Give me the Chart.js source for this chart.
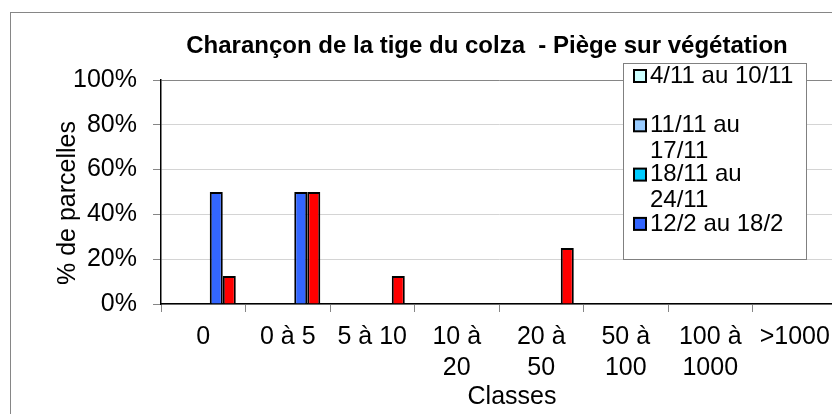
<!DOCTYPE html>
<html>
<head>
<meta charset="utf-8">
<script src="https://cdn.jsdelivr.net/npm/chart.js@4.4.1/dist/chart.umd.min.js"></script>
<style>
html, body { margin: 0; padding: 0; overflow: hidden; background: #fff; }
#wrap { position: relative; width: 900px; height: 414px; }
</style>
</head>
<body>
<div id="wrap"><canvas id="chart"></canvas></div>
<script>
const chartTitle = "Charançon de la tige du colza  - Piège sur végétation";
const xTitle = "Classes";
const yTitle = "% de parcelles";
const categories = ["0", "0 à 5", "5 à 10", ["10 à", "20"], ["20 à", "50"], ["50 à", "100"], ["100 à", "1000"], ">1000"];
const seriesLabels = ["4/11 au 10/11", "11/11 au 17/11", "18/11 au 24/11", "12/2 au 18/2", "Série 5"];
const week1 = [0, 0, 0, 0, 0, 0, 0, 0];
const week2 = [0, 0, 0, 0, 0, 0, 0, 0];
const week3 = [0, 0, 0, 0, 0, 0, 0, 0];
const february = [50, 50, 0, 0, 0, 0, 0, 0];
const series5 = [12.5, 50, 12.5, 0, 25, 0, 0, 0];
const seriesColors = ["#CCFFFF", "#99CCFF", "#00CCFF", "#3366FF", "#FF0000"];
const yMax = 100;
const yStep = 20;

const FONT = "'Liberation Sans', Arial, sans-serif";
Chart.defaults.font.family = FONT;
Chart.defaults.color = "#000";

function wrapText(ctx, text, maxWidth) {
  const words = text.split(" ");
  const lines = [];
  let line = "";
  words.forEach(w => {
    const test = line ? line + " " + w : w;
    if (ctx.measureText(test).width > maxWidth && line) {
      lines.push(line);
      line = w;
    } else {
      line = test;
    }
  });
  if (line) lines.push(line);
  return lines;
}

// outer frame, titles and the Excel-like legend box (clipped)
const excelDecor = {
  id: "excelDecor",
  beforeDraw(chart) {
    const ctx = chart.ctx;
    ctx.save();
    ctx.strokeStyle = "#868686";
    ctx.lineWidth = 1;
    ctx.strokeRect(10.5, 12.5, 2000, 2000);
    ctx.restore();
  },
  afterDraw(chart) {
    const ctx = chart.ctx;
    ctx.save();
    ctx.fillStyle = "#000";
    ctx.textAlign = "center";
    ctx.textBaseline = "middle";
    ctx.font = "bold 24px " + FONT;
    ctx.fillText(chartTitle, 487, 46);
    ctx.font = "25px " + FONT;
    ctx.fillText(xTitle, 512, 397);
    ctx.translate(68, 203);
    ctx.rotate(-Math.PI / 2);
    ctx.fillText(yTitle, 0, 0);
    ctx.restore();

    const bx = 623.5, by = 63.5, bw = 183, bh = 196;
    ctx.save();
    ctx.fillStyle = "#fff";
    ctx.fillRect(bx, by, bw, bh);
    ctx.strokeStyle = "#808080";
    ctx.lineWidth = 1;
    ctx.strokeRect(bx, by, bw, bh);
    ctx.beginPath();
    ctx.rect(bx, by, bw, bh);
    ctx.clip();
    ctx.font = "24px " + FONT;
    ctx.textBaseline = "middle";
    chart.data.datasets.forEach((ds, i) => {
      const y = 76 + i * 49.3;
      ctx.fillStyle = ds.backgroundColor;
      ctx.fillRect(634, y - 6, 12, 12);
      ctx.strokeStyle = "#000";
      ctx.lineWidth = 2;
      ctx.strokeRect(634, y - 6, 12, 12);
      ctx.fillStyle = "#000";
      wrapText(ctx, ds.label, 148).forEach((l, j) => {
        ctx.fillText(l, 650, y + j * 26);
      });
    });
    ctx.restore();
  }
};

const allSeries = [week1, week2, week3, february, series5];

new Chart(document.getElementById("chart"), {
  type: "bar",
  data: {
    labels: categories,
    datasets: allSeries.map((values, i) => ({
      label: seriesLabels[i],
      data: values,
      backgroundColor: seriesColors[i],
      borderColor: "#000",
      borderWidth: 2,
      categoryPercentage: 0.77,
      barPercentage: 1.0
    }))
  },
  options: {
    responsive: true,
    maintainAspectRatio: false,
    animation: false,
    layout: { padding: { left: 0, right: 63, top: 80, bottom: 0 } },
    plugins: {
      legend: { display: false },
      tooltip: { enabled: false },
      title: { display: false }
    },
    scales: {
      x: {
        afterFit(scale) { scale.height = 110; },
        grid: {
          display: true,
          drawOnChartArea: false,
          offset: true,
          tickLength: 8,
          tickColor: "#868686"
        },
        border: { color: "#000", width: 1.5 },
        ticks: {
          font: { size: 25, lineHeight: 1.24 },
          padding: 10,
          maxRotation: 0,
          autoSkip: false
        }
      },
      y: {
        min: 0,
        max: yMax,
        afterFit(scale) { scale.width = 161; },
        grid: {
          color: ctx => ctx.tick && ctx.tick.value === yMax ? "#868686" : "#d4d4d4",
          tickLength: 8,
          tickColor: "#868686"
        },
        border: { color: "#000", width: 1.5 },
        ticks: {
          stepSize: yStep,
          font: { size: 25 },
          padding: 16,
          callback: v => v + "%"
        }
      }
    }
  },
  plugins: [excelDecor]
});
</script>
</body>
</html>
